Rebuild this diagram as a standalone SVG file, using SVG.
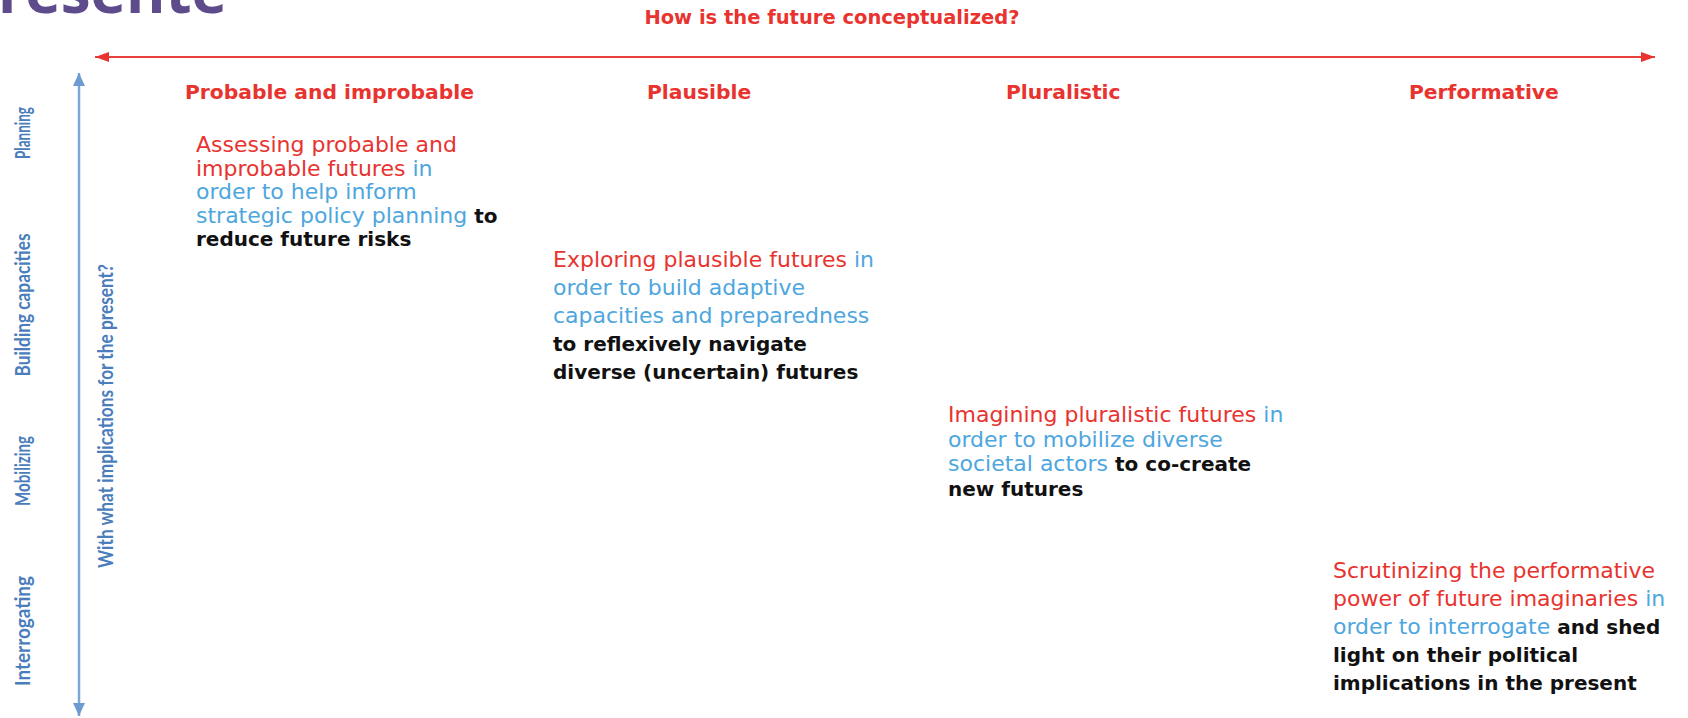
<svg xmlns="http://www.w3.org/2000/svg" width="1688" height="718" viewBox="0 0 1688 718">
<style>
.ttl{font-family:"Open Sans","Liberation Sans",sans-serif;font-weight:bold;font-size:60px;fill:#5e4b8b}
.q{font-family:"DejaVu Sans",Verdana,sans-serif;font-weight:bold;font-size:19.5px;fill:#e8332f}
.hdr{font-family:"DejaVu Sans",Verdana,sans-serif;font-weight:bold;font-size:20.3px;fill:#e8332f}
.body{font-family:"DejaVu Sans",Verdana,sans-serif;font-size:22px}
.r{fill:#e8332f}
.b{fill:#4ea6de}
.k{fill:#111;font-weight:bold;font-size:20px}
.vl{font-family:Lato,"Liberation Sans",sans-serif;font-weight:bold;font-size:21px;fill:#4a7dbb}
.ax-r{stroke:#e8403a;stroke-width:2;fill:none}
.ax-b{stroke:#7aa6d8;stroke-width:2.5;fill:none}
</style>
<defs>
<marker id="ar" markerUnits="userSpaceOnUse" markerWidth="14" markerHeight="12" refX="14" refY="6" orient="auto-start-reverse"><path d="M0,1 L14,6 L0,11 z" fill="#e8332f"/></marker>
<marker id="ab" markerUnits="userSpaceOnUse" markerWidth="13" markerHeight="14" refX="13" refY="7" orient="auto-start-reverse"><path d="M0,1 L13,7 L0,13 z" fill="#6e9ad2"/></marker>
</defs>
<text class="ttl" x="-2" y="13">resente</text>
<g id="connectors">
<line class="ax-r" x1="95" y1="57" x2="1655" y2="57" marker-start="url(#ar)" marker-end="url(#ar)"/>
<line class="ax-b" x1="79" y1="73" x2="79" y2="716" marker-start="url(#ab)" marker-end="url(#ab)"/>
</g>
<g id="axis-x-label"><text class="q" x="832" y="24" text-anchor="middle">How is the future conceptualized?</text></g>
<g id="axis-y-label"><text class="vl" transform="translate(113,416) rotate(-90)" text-anchor="middle" textLength="304" lengthAdjust="spacingAndGlyphs">With what implications for the present?</text></g>
<g id="row-labels">
<text class="vl" transform="translate(30,133) rotate(-90)" text-anchor="middle" textLength="52" lengthAdjust="spacingAndGlyphs">Planning</text>
<text class="vl" transform="translate(30,305) rotate(-90)" text-anchor="middle" textLength="143" lengthAdjust="spacingAndGlyphs">Building capacities</text>
<text class="vl" transform="translate(30,471) rotate(-90)" text-anchor="middle" textLength="70" lengthAdjust="spacingAndGlyphs">Mobilizing</text>
<text class="vl" transform="translate(30,631) rotate(-90)" text-anchor="middle" textLength="110" lengthAdjust="spacingAndGlyphs">Interrogating</text>
</g>
<g id="col-headers">
<text class="hdr" x="185" y="99">Probable and improbable</text>
<text class="hdr" x="647" y="99">Plausible</text>
<text class="hdr" x="1006" y="99">Pluralistic</text>
<text class="hdr" x="1409" y="99">Performative</text>
</g>
<g id="node-probable" class="body">
<text x="196" y="152"><tspan class="r">Assessing probable and</tspan></text>
<text x="196" y="175.5"><tspan class="r">improbable futures</tspan><tspan class="b"> in</tspan></text>
<text x="196" y="199"><tspan class="b">order to help inform</tspan></text>
<text x="196" y="222.5"><tspan class="b">strategic policy planning</tspan><tspan class="k"> to</tspan></text>
<text x="196" y="246"><tspan class="k">reduce future risks</tspan></text>
</g>
<g id="node-plausible" class="body">
<text x="553" y="267"><tspan class="r">Exploring plausible futures</tspan><tspan class="b"> in</tspan></text>
<text x="553" y="295"><tspan class="b">order to build adaptive</tspan></text>
<text x="553" y="323"><tspan class="b">capacities and preparedness</tspan></text>
<text x="553" y="351"><tspan class="k">to reflexively navigate</tspan></text>
<text x="553" y="379"><tspan class="k">diverse (uncertain) futures</tspan></text>
</g>
<g id="node-pluralistic" class="body">
<text x="948" y="422"><tspan class="r">Imagining pluralistic futures</tspan><tspan class="b"> in</tspan></text>
<text x="948" y="446.5"><tspan class="b">order to mobilize diverse</tspan></text>
<text x="948" y="471"><tspan class="b">societal actors</tspan><tspan class="k"> to co-create</tspan></text>
<text x="948" y="495.5"><tspan class="k">new futures</tspan></text>
</g>
<g id="node-performative" class="body">
<text x="1333" y="578"><tspan class="r">Scrutinizing the performative</tspan></text>
<text x="1333" y="606"><tspan class="r">power of future imaginaries</tspan><tspan class="b"> in</tspan></text>
<text x="1333" y="634"><tspan class="b">order to interrogate</tspan><tspan class="k"> and shed</tspan></text>
<text x="1333" y="662"><tspan class="k">light on their political</tspan></text>
<text x="1333" y="690"><tspan class="k">implications in the present</tspan></text>
</g>
</svg>
